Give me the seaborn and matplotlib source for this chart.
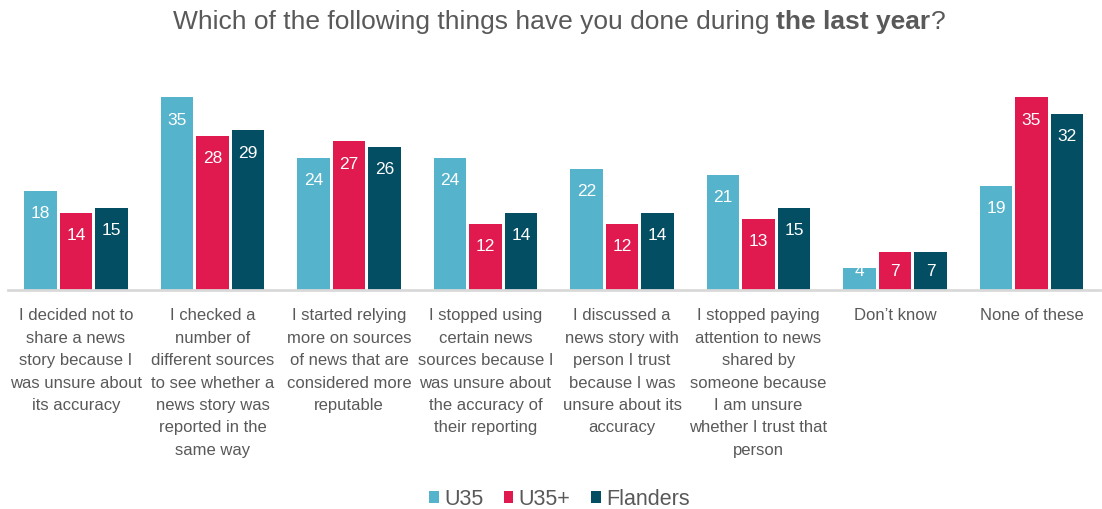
import matplotlib
matplotlib.use("Agg")
import matplotlib.pyplot as plt
import seaborn as sns
import pandas as pd

categories = [
    "I decided not to\nshare a news\nstory because I\nwas unsure about\nits accuracy",
    "I checked a\nnumber of\ndifferent sources\nto see whether a\nnews story was\nreported in the\nsame way",
    "I started relying\nmore on sources\nof news that are\nconsidered more\nreputable",
    "I stopped using\ncertain news\nsources because I\nwas unsure about\nthe accuracy of\ntheir reporting",
    "I discussed a\nnews story with\nperson I trust\nbecause I was\nunsure about its\naccuracy",
    "I stopped paying\nattention to news\nshared by\nsomeone because\nI am unsure\nwhether I trust that\nperson",
    "Don\u2019t know",
    "None of these",
]
groups = ["U35", "U35+", "Flanders"]
u35 = [18, 35, 24, 24, 22, 21, 4, 19]
u35_plus = [14, 28, 27, 12, 12, 13, 7, 35]
flanders = [15, 29, 26, 14, 14, 15, 7, 32]
colors = ["#55B4CB", "#E0194F", "#034E62"]

rows = []
for g, vals in zip(groups, [u35, u35_plus, flanders]):
    for c, v in zip(categories, vals):
        rows.append({"category": c, "group": g, "value": v})
df = pd.DataFrame(rows)

sns.set_style("white")
plt.rcParams["font.family"] = ["Liberation Sans", "DejaVu Sans"]
text_color = "#595959"

fig = plt.figure(figsize=(11.02, 5.09), dpi=100)
ax = fig.add_axes([0.007, 0.430, 0.991, 0.411])

sns.barplot(data=df, x="category", y="value", hue="group", order=categories,
            hue_order=groups, palette=colors, width=0.78, gap=0.08,
            linewidth=0, saturation=1, ax=ax, legend=True)

ax.set_ylim(0, 38)
ax.set_xlim(-0.5, len(categories) - 0.5)
ax.set_xlabel("")
ax.set_ylabel("")
ax.set_yticks([])
for side in ["left", "right", "top"]:
    ax.spines[side].set_visible(False)
ax.spines["bottom"].set_color("#D9D9D9")
ax.spines["bottom"].set_linewidth(2)
ax.set_xticks(range(len(categories)))
ax.set_xticklabels(categories, linespacing=1.62, va="top", fontsize=12,
                   color=text_color)
ax.tick_params(axis="x", length=0, pad=13)

# value labels inside the bars, near the top
for container in ax.containers:
    for bar in container:
        v = bar.get_height()
        x = bar.get_x() + bar.get_width() / 2
        y = max(v - 4.1, 3.3)
        ax.text(x, y, f"{v:.0f}", ha="center", va="center", color="white",
                fontsize=12.5)

# legend
handles, labels = ax.get_legend_handles_labels()
ax.legend(handles, labels, loc="center", bbox_to_anchor=(0.505, -1.0),
          ncol=3, frameon=False, fontsize=15.5, handlelength=0.45,
          handleheight=0.45, handletextpad=0.25, columnspacing=0.95,
          labelcolor=text_color)

# title with a bold segment
parts = [("Which of the following things have you done during ", "normal"),
         ("the last year", "bold"),
         ("?", "normal")]
renderer = fig.canvas.get_renderer()
texts = []
for s, w in parts:
    t = fig.text(0, 0.957, s, fontsize=19, fontweight=w, color=text_color,
                 ha="left", va="center")
    texts.append(t)
widths = [t.get_window_extent(renderer).width for t in texts]
total = sum(widths)
fig_w = fig.get_figwidth() * fig.dpi
x0 = 559 - total / 2
for t, w in zip(texts, widths):
    t.set_x(x0 / fig_w)
    x0 += w

fig.savefig("out.png", dpi=100)
